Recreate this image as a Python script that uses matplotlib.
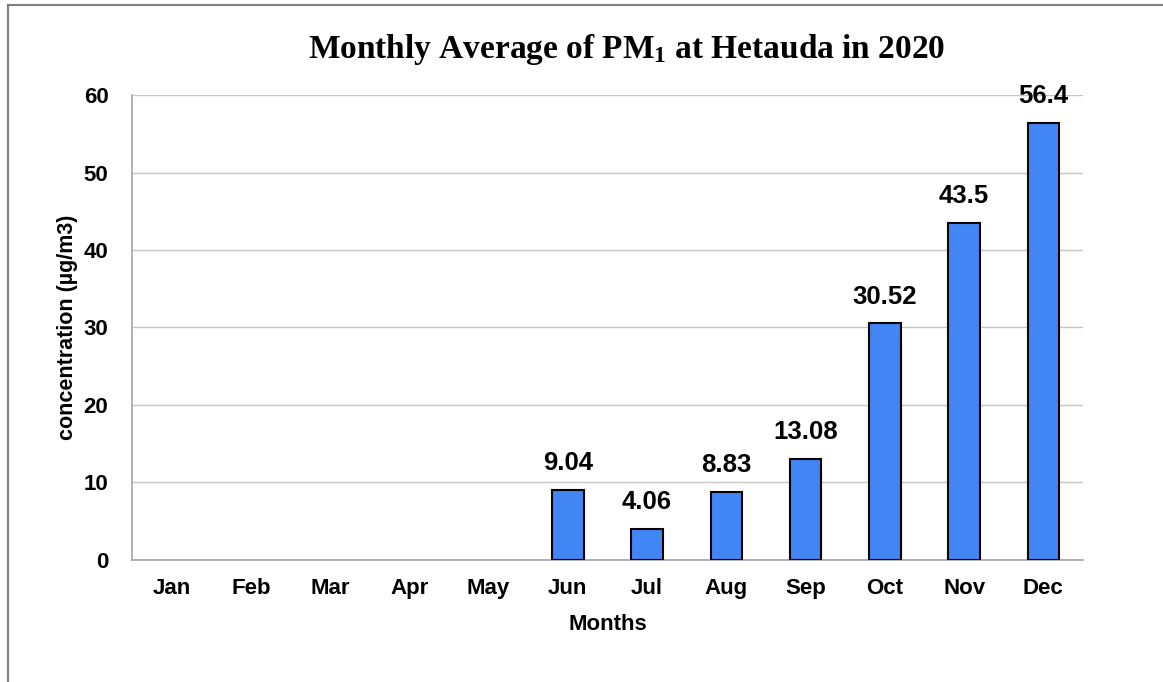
import matplotlib.pyplot as plt
import numpy as np

months = ['Jan', 'Feb', 'Mar', 'Apr', 'May', 'Jun', 'Jul', 'Aug', 'Sep', 'Oct', 'Nov', 'Dec']
pm1 = [None, None, None, None, None, 9.04, 4.06, 8.83, 13.08, 30.52, 43.5, 56.4]
labels = ['', '', '', '', '', '9.04', '4.06', '8.83', '13.08', '30.52', '43.5', '56.4']

plt.rcParams['font.family'] = ['Liberation Sans', 'DejaVu Sans']
plt.rcParams['mathtext.fontset'] = 'custom'
plt.rcParams['mathtext.rm'] = 'Liberation Serif'
plt.rcParams['mathtext.bf'] = 'Liberation Serif:bold'

fig = plt.figure(figsize=(11.63, 6.82), dpi=100)
ax = fig.add_axes([0.1135, 0.1789, 0.8177, 0.6818])

x = np.arange(len(months))
# only months with data get a bar
idx = [i for i, v in enumerate(pm1) if v is not None]
vals = [pm1[i] for i in idx]
bars = ax.bar(idx, vals, width=0.4, color='#4285F4', edgecolor='black', linewidth=1.5, zorder=3)
for i, v in zip(idx, vals):
    ax.annotate(labels[i], (i, v), xytext=(0, 10.5), textcoords='offset points',
                ha='center', va='bottom', fontsize=18.5, fontweight='bold')

ax.set_xlim(-0.5, 11.5)
ax.set_ylim(0, 60)
ax.set_xticks(x)
ax.set_xticklabels(months, fontsize=16, fontweight='bold')
ax.set_yticks(range(0, 61, 10))
ax.set_yticklabels([str(t) for t in range(0, 61, 10)], fontsize=16, fontweight='bold')
ax.tick_params(length=0, pad=13)
ax.tick_params(axis='y', pad=17)
ax.grid(axis='y', color='#c6c6c6', linewidth=1, zorder=0)
for s in ['top', 'right']:
    ax.spines[s].set_visible(False)
for s in ['left', 'bottom']:
    ax.spines[s].set_color('#a6a6a6')
    ax.spines[s].set_linewidth(1.2)

ax.set_xlabel('Months', fontsize=16, fontweight='bold', labelpad=11)
ax.set_ylabel('concentration (µg/m3)', fontsize=15.5, fontweight='bold', labelpad=4)

fig.text(0.539, 0.928, r'Monthly Average of $\mathbf{PM_1}$ at Hetauda in 2020',
         ha='center', va='center', fontsize=24, fontweight='bold', family='Liberation Serif')

# chart frame (only top and left edges visible)
fig.add_artist(plt.Line2D([0.007, 0.007], [0, 0.992], color='#7f7f7f', linewidth=1.5))
fig.add_artist(plt.Line2D([0.007, 1.0], [0.992, 0.992], color='#7f7f7f', linewidth=1.5))

fig.savefig('out.png', dpi=100)
